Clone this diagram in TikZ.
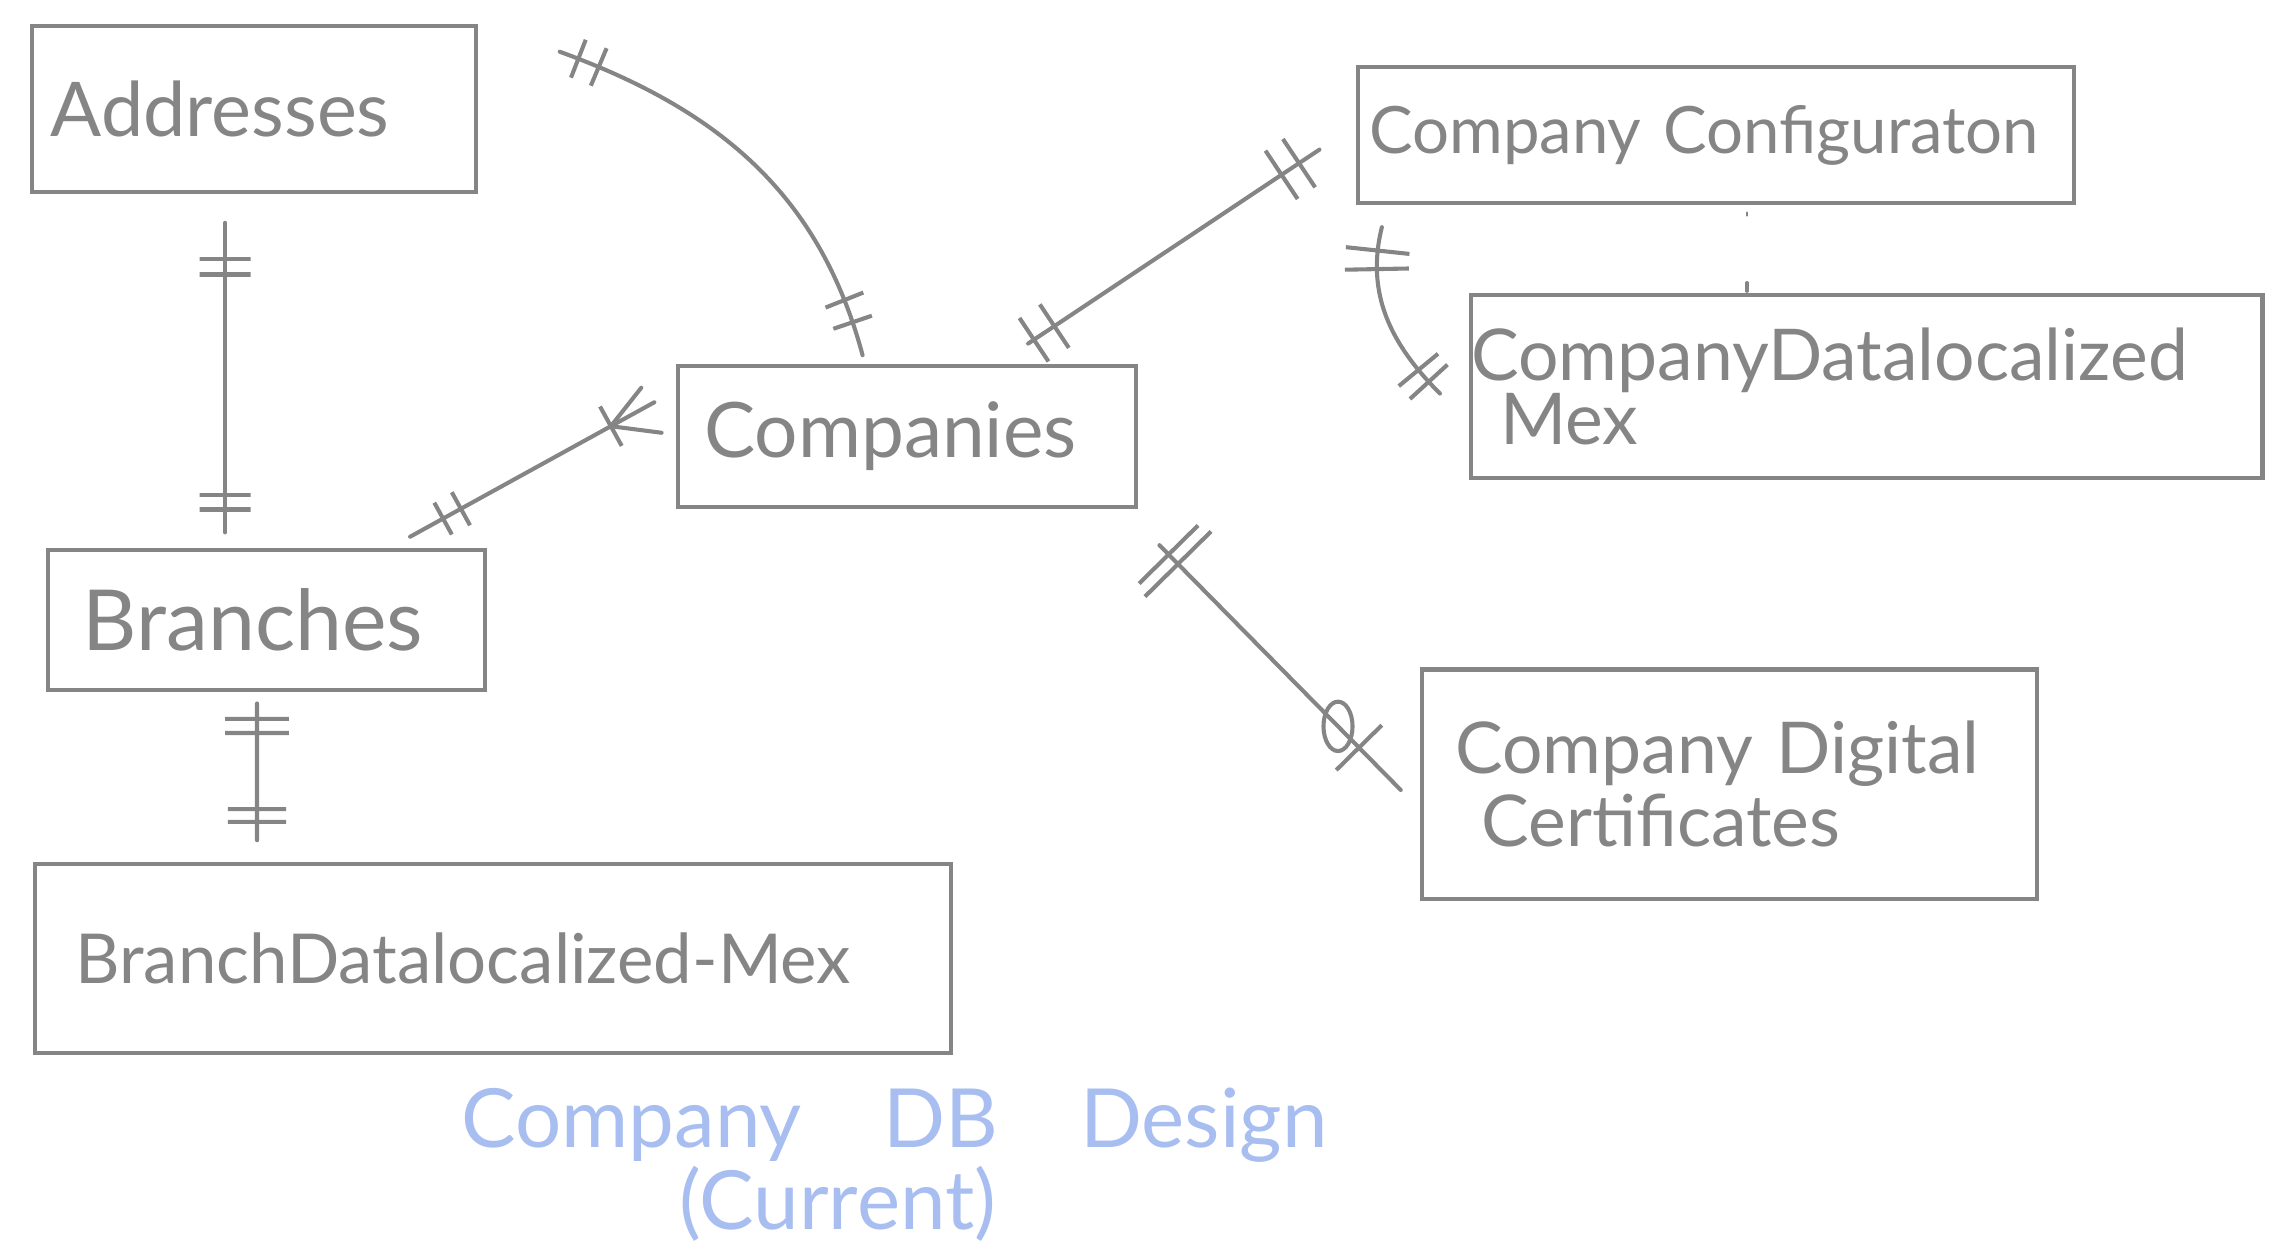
\documentclass[tikz,border=0pt]{standalone}
\usepackage{fontspec}
\setmainfont{Lato}
\usetikzlibrary{shapes.geometric}

\definecolor{inkgray}{RGB}{133,133,133}
\definecolor{inkblue}{RGB}{168,190,240}

\begin{document}
\begin{tikzpicture}[x=0.1mm, y=0.1mm,
		entity/.style={draw=inkgray, line width=0.8pt, text=inkgray, align=left, inner ysep=0pt},
		rel/.style={draw=inkgray, line width=0.8pt, line cap=round},
		crossbar/.style={draw=inkgray, line width=0.8pt, line cap=round, sloped, inner sep=0pt, minimum width=0pt, minimum height=#1},
		crossbar/.default=3.5mm,
		optional/.style={draw=inkgray, line width=0.8pt, ellipse, inner sep=0pt, minimum width=2mm, minimum height=3.4mm}]
	
	\useasboundingbox (0,0) rectangle (1568,-864);
	
	\node[entity, minimum width=30.6mm, minimum height=11.4mm, text width=28mm, inner xsep=1.3mm, font=\fontsize{14.8}{17}\selectfont] (addresses) at (175,-75) {Addresses};
	\node[entity, minimum width=31.5mm, minimum height=9.7mm, text width=27.9mm, inner xsep=1.8mm, font=\fontsize{15}{17}\selectfont] (companies) at (624.5,-300.5) {Companies};
	\node[entity, minimum width=30.1mm, minimum height=9.6mm, text width=25.3mm, inner xsep=2.4mm, font=\fontsize{16.5}{18}\selectfont] (branches) at (183.5,-427) {Branches};
	\node[entity, minimum width=63.1mm, minimum height=13mm, text width=57.5mm, inner xsep=2.8mm, font=\fontsize{13.5}{16}\selectfont] (branchmex) at (339.5,-660) {BranchDatalocalized-Mex};
	\node[entity, minimum width=49.3mm, minimum height=9.4mm, text width=47.7mm, inner xsep=0.8mm, font=\fontsize{12.8}{15}\selectfont] (config) at (1181.5,-93) {Company Configuraton};
	\node[entity, minimum width=54.5mm, minimum height=12.6mm, text width=54.5mm, inner xsep=0mm, font=\fontsize{14}{12.5}\selectfont] (companymex) at (1285.5,-266) {CompanyDatalocalized\\\hspace*{2mm}Mex};
	\node[entity, minimum width=42.4mm, minimum height=15.8mm, text width=37.8mm, inner xsep=2.3mm, font=\fontsize{14}{14.2}\selectfont] (certs) at (1191,-540) {Company Digital\\\hspace*{1.8mm}Certificates};
	
	% addresses - branches
	\draw[rel] ([xshift=-2mm,yshift=-2mm]addresses.south) -- ([xshift=-2.85mm,yshift=1.1mm]branches.north)
		node[crossbar, pos=0.116] {} node[crossbar, pos=0.167] {}
		node[crossbar, pos=0.88] {} node[crossbar, pos=0.926] {};
	
	% branches - localized data
	\draw[rel] ([xshift=-0.65mm,yshift=-0.8mm]branches.south) -- ([xshift=-16.25mm,yshift=1.5mm]branchmex.north)
		node[crossbar=4.4mm, pos=0.113] {} node[crossbar=4.4mm, pos=0.216] {}
		node[crossbar=4mm, pos=0.773] {} node[crossbar=4mm, pos=0.866] {};
	
	% branches - companies
	\draw[rel] ([xshift=-5.3mm,yshift=0.8mm]branches.north east) -- ([xshift=-1.5mm,yshift=2.35mm]companies.west)
		node[crossbar=2.5mm, pos=0.135] {} node[crossbar=2.6mm, pos=0.208] {}
		coordinate[pos=0.822] (fork) node[crossbar=3.1mm, pos=0.822] {};
	\draw[rel] ([xshift=-2.4mm,yshift=3.35mm]companies.west) -- (fork) -- ([xshift=-1mm,yshift=0.25mm]companies.west);
	
	% addresses - companies
	\coordinate (addrlink) at ([xshift=5.6mm,yshift=-1.9mm]addresses.north east);
	\draw[rel] (addrlink) to[out=-20, in=105]
		node[crossbar=2.8mm, pos=0.04] {} node[crossbar=2.8mm, pos=0.085] {}
		node[crossbar=2.8mm, pos=0.88] {} node[crossbar=2.8mm, pos=0.93] {}
		([xshift=-3.05mm,yshift=0.6mm]companies.north);
	
	% companies - configuration
	\draw[rel] ([xshift=8.35mm,yshift=1.4mm]companies.north) -- ([xshift=-2.5mm,yshift=-1mm]config.west)
		node[crossbar=3.6mm, pos=0.02] {} node[crossbar=3.6mm, pos=0.09] {}
		node[crossbar=4mm, pos=0.87] {} node[crossbar=4mm, pos=0.93] {};
	
	% configuration - localized data
	\draw[rel] ([xshift=1.8mm,yshift=-1.5mm]config.south west) to[out=256, in=135]
		node[crossbar=4.4mm, pos=0.12] {} node[crossbar=4.4mm, pos=0.22] {}
		node[crossbar=3.5mm, pos=0.84] {} node[crossbar=3.5mm, pos=0.92] {}
		([xshift=-2mm,yshift=-0.5mm]companymex.west);
	\draw[rel, line width=0.5pt] ([xshift=2.15mm,yshift=-0.5mm]config.south) -- ++(0,-0.2mm);
	\draw[rel, line width=0.6pt] ([xshift=-8.25mm,yshift=0.1mm]companymex.north) -- ++(0,0.6mm);
	
	% companies - certificates
	\draw[rel] ([xshift=1.5mm,yshift=-2.5mm]companies.south east) -- ([xshift=-1.3mm,yshift=-0.4mm]certs.west)
		node[crossbar=5.7mm, pos=0.038] {} node[crossbar=6.4mm, pos=0.077] {}
		node[optional, pos=0.74] {} node[crossbar=4.4mm, pos=0.827] {};
	
	\node[text=inkblue, align=center, font=\fontsize{16}{16}\selectfont] (title) at (616,-802) {Company\quad DB\quad Design\\(Current)\hspace*{7.8mm}};
	
\end{tikzpicture}
\end{document}
